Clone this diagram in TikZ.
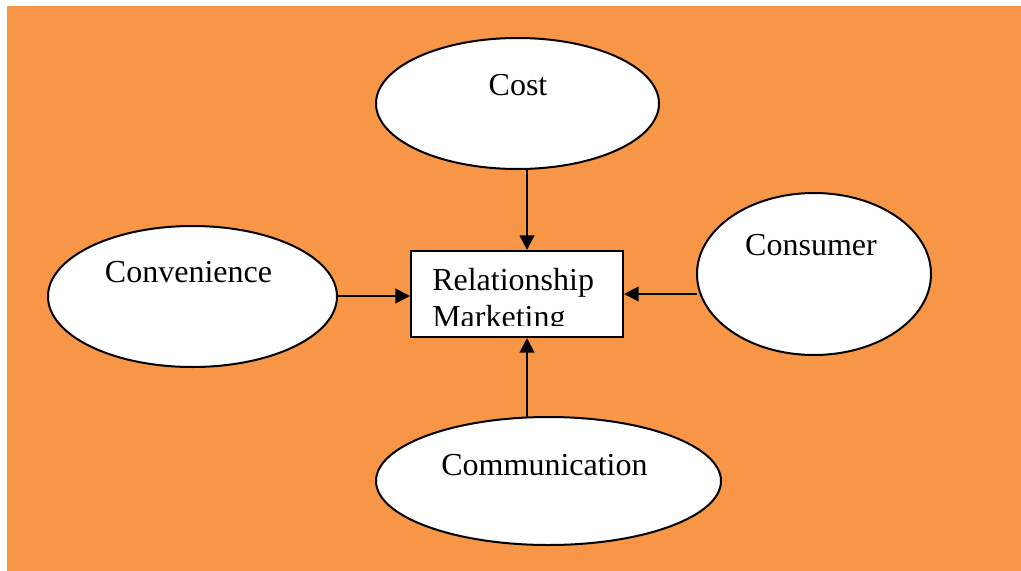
\documentclass[tikz,border=0pt]{standalone}
\usepackage{fontspec}
\setmainfont{Liberation Serif}
\usetikzlibrary{arrows.meta}
\definecolor{bgorange}{HTML}{F79646}
\tikzset{
  oval/.style={draw=black, line width=1.5pt, fill=white},
  lbl/.style={anchor=base, inner sep=0pt, font=\fontsize{24}{28}\selectfont},
  conn/.style={line width=1.6pt, -{Triangle[length=11pt,width=11pt]}}
}
\begin{document}
\begin{tikzpicture}[x=0.75pt,y=-0.75pt]
\useasboundingbox (0,0) rectangle (1021,571);
\fill[bgorange] (7,6) rectangle (1021,571);
% ellipses
\draw[oval] (517.5,103.5) ellipse [x radius=141.5, y radius=65.5];
\draw[oval] (192.5,296.5) ellipse [x radius=144.5, y radius=70.5];
\draw[oval] (814,274) ellipse [x radius=117, y radius=81];
\draw[oval] (548.5,481) ellipse [x radius=172.5, y radius=64];
\coordinate (costB) at (527,169);
\coordinate (convR) at (337,296);
\coordinate (consL) at (697,294);
\coordinate (commT) at (527,417);
\node[lbl] (cost) at (518,95) {Cost};
\node[lbl] (conv) at (188.5,282) {Convenience};
\node[lbl] (cons) at (811,255) {Consumer};
\node[lbl] (comm) at (544.5,475) {Communication};
% box
\node[draw=black, line width=1.5pt, fill=white, minimum width=212*0.75pt, minimum height=86*0.75pt, inner sep=0pt] (box) at (517,294) {};
\begin{scope}
\clip (412,252) rectangle (622,325);
\node[lbl, anchor=base west] (rel) at (432,290) {Relationship};
\node[lbl, anchor=base west] (mkt) at (432,327) {Marketing};
\end{scope}
% connectors
\draw[conn] (costB) -- (costB |- box.north);
\draw[conn] (convR) -- (convR -| box.west);
\draw[conn] (consL) -- (consL -| box.east);
\draw[conn] (commT) -- (commT |- box.south);
\end{tikzpicture}
\end{document}
